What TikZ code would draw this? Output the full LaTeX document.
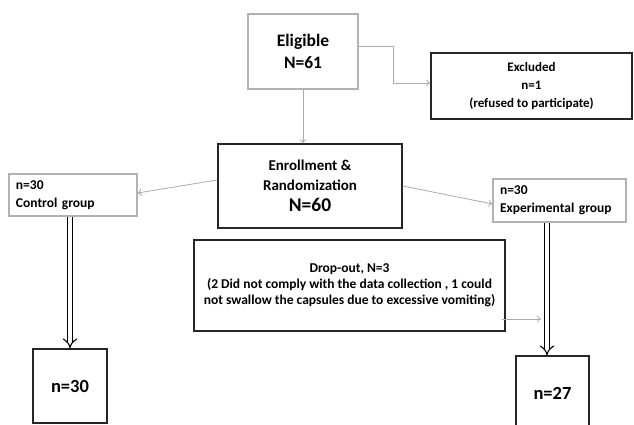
\documentclass[tikz,border=0pt]{standalone}
\usepackage{fontspec}
\setmainfont{Carlito}
\usetikzlibrary{arrows.meta}
\begin{document}
\begin{tikzpicture}[x=1pt,y=-1pt,
  box/.style={draw, rectangle, inner sep=0pt, align=center},
  graybox/.style={box, draw=gray!60, line width=1.1pt},
  blackbox/.style={box, draw=black!85, line width=1.6pt},
  conn/.style={draw=gray!65, line width=0.8pt, -{To[length=4pt,width=7pt]}},
  dbl/.style={draw=black, double=white, double distance=4pt, line width=1.1pt, -{Implies}}
]
\useasboundingbox[fill=white] (0,0) rectangle (634,425);

\node[graybox, minimum width=110pt, minimum height=75pt,
      font=\bfseries\fontsize{17.5}{22}\selectfont] (elig) at (303,51.5) {Eligible\\N=61};

\node[blackbox, minimum width=201pt, minimum height=66pt,
      font=\bfseries\fontsize{13}{18}\selectfont] (excl) at (531.5,86) {Excluded\\n=1\\(refused to participate)};

\node[blackbox, minimum width=184pt, minimum height=84pt,
      font=\bfseries\fontsize{15}{20}\selectfont] (enr) at (310,186)
      {Enrollment \&\\Randomization\\[1pt]{\fontsize{19.5}{20}\selectfont N=60}};

\node[graybox, minimum height=42pt, inner xsep=7pt, text width=114pt, align=left,
      font=\bfseries\fontsize{13.5}{18}\selectfont] (ctrl) at (73,195) {n=30\\Control group};

\node[graybox, minimum height=43pt, inner xsep=7pt, text width=119pt, align=left,
      font=\bfseries\fontsize{13.5}{18}\selectfont] (exp) at (559.5,200.5) {n=30\\Experimental group};

\node[blackbox, minimum width=311pt, minimum height=91pt,
      font=\bfseries\fontsize{13.5}{16}\selectfont] (drop) at (349.5,285.5)
      {Drop-out, N=3\\(2 Did not comply with the data collection , 1 could\\not swallow the capsules due to excessive vomiting)};

\node[blackbox, line width=1.4pt, minimum width=74pt, minimum height=74pt,
      font=\bfseries\fontsize{18.5}{20}\selectfont] (n30) at (70,386) {n=30};

\node[blackbox, line width=1.4pt, minimum width=73pt, minimum height=74pt,
      font=\bfseries\fontsize{18.5}{20}\selectfont] (n27) at (552.5,393) {n=27};

\coordinate (dropend) at (541,319);

% connectors
\draw[conn] ([yshift=5.5pt]elig.east) -| ([xshift=-37pt,yshift=3pt]excl.west) -- ([yshift=3pt]excl.west);
\draw[conn] (elig.south) -- (elig.south |- enr.north);
\draw[conn] ([yshift=6pt]enr.west) -- ([yshift=2pt]ctrl.east);
\draw[conn] (enr.east) -- ([yshift=-3.5pt]exp.west);
\draw[conn] ([xshift=-4pt,yshift=-33.5pt]drop.east) -- (dropend);

\draw[dbl] ([xshift=-3pt]ctrl.south) -- ([xshift=-3pt]ctrl.south |- n30.north);
\draw[dbl] ([xshift=-12.5pt]exp.south) -- ([xshift=-12.5pt]exp.south |- n27.north);
\end{tikzpicture}
\end{document}
